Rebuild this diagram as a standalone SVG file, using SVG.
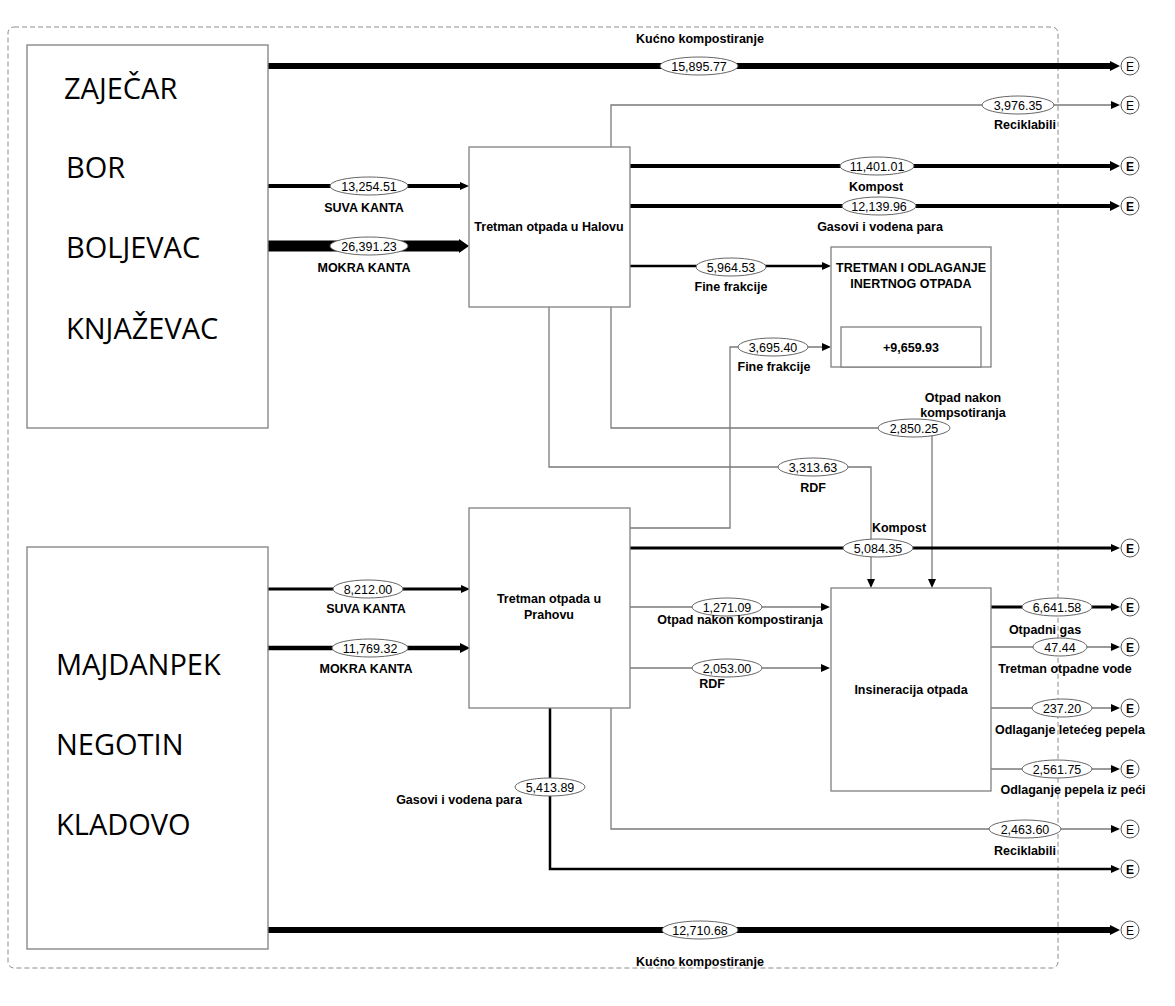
<svg xmlns="http://www.w3.org/2000/svg" width="1175" height="1006" viewBox="0 0 1175 1006">
<style>
.box{fill:#fff;stroke:#808080;stroke-width:1.3}
.city{font-family:"Open Sans","Noto Sans",sans-serif;font-size:29px;fill:#000}
.bt{font-family:"Liberation Sans",Arial,sans-serif;font-size:12.5px;font-weight:bold;fill:#000;text-anchor:middle}
.lbl{font-family:"Liberation Sans",Arial,sans-serif;font-size:12.5px;font-weight:bold;fill:#000;text-anchor:middle}
.num{font-family:"Liberation Sans",Arial,sans-serif;font-size:12.5px;fill:#000;text-anchor:middle}
.ell{fill:#fff;stroke:#666;stroke-width:1}
.thin{fill:none;stroke:#7a7a7a;stroke-width:1.3}
.blk{fill:none;stroke:#000}
.ec{fill:#fff;stroke:#555;stroke-width:1}
.et{font-family:"Liberation Sans",Arial,sans-serif;font-size:12px;fill:#000;text-anchor:middle}
.eb{font-weight:bold}
</style>
<defs>
<marker id="a" markerUnits="userSpaceOnUse" markerWidth="10" markerHeight="10" refX="0" refY="4" orient="auto"><path d="M0,0 L9,4 L0,8 z" fill="#000"/></marker>
<marker id="am" markerUnits="userSpaceOnUse" markerWidth="12" markerHeight="12" refX="0" refY="5" orient="auto"><path d="M0,0 L10,5 L0,10 z" fill="#000"/></marker>
<marker id="al" markerUnits="userSpaceOnUse" markerWidth="14" markerHeight="16" refX="0" refY="7" orient="auto"><path d="M0,0 L10,7 L0,14 z" fill="#000"/></marker>
</defs>
<rect width="1175" height="1006" fill="#fff"/>
<rect x="8" y="27" width="1050" height="941" rx="6" fill="none" stroke="#8c8c8c" stroke-width="1" stroke-dasharray="5 3"/>

<g id="connectors">
<path class="blk" stroke-width="6" d="M268,66 H1110" marker-end="url(#am)"/>
<path class="blk" stroke-width="4" d="M268,186 H460" marker-end="url(#a)"/>
<path class="blk" stroke-width="11" d="M268,246 H459" marker-end="url(#al)"/>
<path class="thin" stroke="#555" d="M611,147 V105 H1111" marker-end="url(#a)"/>
<path class="blk" stroke-width="4" d="M630,166 H1110" marker-end="url(#am)"/>
<path class="blk" stroke-width="4" d="M630,206 H1110" marker-end="url(#am)"/>
<path class="blk" stroke-width="2.5" d="M630,266 H822" marker-end="url(#a)"/>
<path class="thin" d="M630,528 H730 V347 H822" marker-end="url(#a)"/>
<path class="thin" stroke="#555" d="M611,307 V428 H932 V579" marker-end="url(#a)"/>
<path class="thin" d="M549,307 V467 H871 V579" marker-end="url(#a)"/>
<path class="blk" stroke-width="3" d="M630,548 H1111" marker-end="url(#a)"/>
<path class="blk" stroke-width="3" d="M268,589 H461" marker-end="url(#a)"/>
<path class="blk" stroke-width="4.5" d="M268,648 H460" marker-end="url(#am)"/>
<path class="thin" d="M630,607 H821" marker-end="url(#a)"/>
<path class="thin" d="M630,668 H821" marker-end="url(#a)"/>
<path class="blk" stroke-width="3" d="M990,607 H1111" marker-end="url(#a)"/>
<path class="thin" d="M990,647 H1111" marker-end="url(#a)"/>
<path class="thin" d="M990,708 H1111" marker-end="url(#a)"/>
<path class="thin" d="M990,769 H1111" marker-end="url(#a)"/>
<path class="thin" stroke="#555" d="M611,708 V829 H1111" marker-end="url(#a)"/>
<path class="blk" stroke-width="2.5" d="M550,708 V869 H1111" marker-end="url(#a)"/>
<path class="blk" stroke-width="6" d="M268,930 H1110" marker-end="url(#am)"/>

<g>
<ellipse class="ell" cx="699" cy="66" rx="39" ry="9"/><text class="num" x="699" y="70.5">15,895.77</text>
<ellipse class="ell" cx="369" cy="186" rx="39" ry="9"/><text class="num" x="369" y="190.5">13,254.51</text>
<ellipse class="ell" cx="369" cy="246" rx="39" ry="9"/><text class="num" x="369" y="250.5">26,391.23</text>
<ellipse class="ell" cx="1018" cy="105" rx="36" ry="9"/><text class="num" x="1018" y="109.5">3,976.35</text>
<ellipse class="ell" cx="877" cy="166" rx="37" ry="9"/><text class="num" x="877" y="170.5">11,401.01</text>
<ellipse class="ell" cx="879" cy="206" rx="37" ry="9"/><text class="num" x="879" y="210.5">12,139.96</text>
<ellipse class="ell" cx="731" cy="267" rx="35" ry="9"/><text class="num" x="731" y="271.5">5,964.53</text>
<ellipse class="ell" cx="773" cy="347" rx="35" ry="9"/><text class="num" x="773" y="351.5">3,695.40</text>
<ellipse class="ell" cx="914" cy="428" rx="36" ry="9"/><text class="num" x="914" y="432.5">2,850.25</text>
<ellipse class="ell" cx="813" cy="467" rx="35" ry="9"/><text class="num" x="813" y="471.5">3,313.63</text>
<ellipse class="ell" cx="878" cy="548" rx="35" ry="9"/><text class="num" x="878" y="552.5">5,084.35</text>
<ellipse class="ell" cx="368" cy="589" rx="35" ry="9"/><text class="num" x="368" y="593.5">8,212.00</text>
<ellipse class="ell" cx="370" cy="648" rx="38" ry="9"/><text class="num" x="370" y="652.5">11,769.32</text>
<ellipse class="ell" cx="727" cy="607" rx="35" ry="9"/><text class="num" x="727" y="611.5">1,271.09</text>
<ellipse class="ell" cx="727" cy="668" rx="35" ry="9"/><text class="num" x="727" y="672.5">2,053.00</text>
<ellipse class="ell" cx="1057" cy="607" rx="35" ry="9"/><text class="num" x="1057" y="611.5">6,641.58</text>
<ellipse class="ell" cx="1060" cy="647" rx="27" ry="9"/><text class="num" x="1060" y="651.5">47.44</text>
<ellipse class="ell" cx="1062" cy="708" rx="30" ry="9"/><text class="num" x="1062" y="712.5">237.20</text>
<ellipse class="ell" cx="1057" cy="769" rx="35" ry="9"/><text class="num" x="1057" y="773.5">2,561.75</text>
<ellipse class="ell" cx="1025" cy="829" rx="36" ry="9"/><text class="num" x="1025" y="833.5">2,463.60</text>
<ellipse class="ell" cx="550" cy="787" rx="35" ry="9"/><text class="num" x="550" y="791.5">5,413.89</text>
<ellipse class="ell" cx="700" cy="930" rx="38" ry="9"/><text class="num" x="700" y="934.5">12,710.68</text>
</g>

<g>
<text class="lbl" x="700" y="43">Kućno kompostiranje</text>
<text class="lbl" x="364" y="212">SUVA KANTA</text>
<text class="lbl" x="364" y="272">MOKRA KANTA</text>
<text class="lbl" x="1025" y="129">Reciklabili</text>
<text class="lbl" x="876" y="191">Kompost</text>
<text class="lbl" x="880" y="231">Gasovi i vodena para</text>
<text class="lbl" x="731" y="291">Fine frakcije</text>
<text class="lbl" x="774" y="371">Fine frakcije</text>
<text class="lbl" x="963" y="402">Otpad nakon</text>
<text class="lbl" x="963" y="417">kompsotiranja</text>
<text class="lbl" x="813" y="492">RDF</text>
<text class="lbl" x="899" y="532">Kompost</text>
<text class="lbl" x="366" y="613">SUVA KANTA</text>
<text class="lbl" x="366" y="673">MOKRA KANTA</text>
<text class="lbl" x="740" y="624">Otpad nakon kompostiranja</text>
<text class="lbl" x="712" y="688">RDF</text>
<text class="lbl" x="1045" y="634">Otpadni gas</text>
<text class="lbl" x="1065" y="673">Tretman otpadne vode</text>
<text class="lbl" x="1070" y="734">Odlaganje letećeg pepela</text>
<text class="lbl" x="1073" y="794">Odlaganje pepela iz peći</text>
<text class="lbl" x="1025" y="855">Reciklabili</text>
<text class="lbl" x="459" y="804">Gasovi i vodena para</text>
<text class="lbl" x="700" y="966">Kućno kompostiranje</text>
</g>
</g>

<g id="north-municipalities">
<rect class="box" x="27" y="45" width="241" height="383"/>
<text class="city" x="64" y="99">ZAJEČAR</text>
<text class="city" x="66" y="178">BOR</text>
<text class="city" x="66" y="258">BOLJEVAC</text>
<text class="city" x="66" y="339">KNJAŽEVAC</text>
</g>
<g id="south-municipalities">
<rect class="box" x="27" y="547" width="241" height="402"/>
<text class="city" x="56" y="675">MAJDANPEK</text>
<text class="city" x="56" y="755">NEGOTIN</text>
<text class="city" x="56" y="835">KLADOVO</text>
</g>
<g id="halovo">
<rect class="box" x="469" y="147" width="161" height="160"/>
<text class="bt" x="549" y="231">Tretman otpada u Halovu</text>
</g>
<g id="prahovo">
<rect class="box" x="469" y="508" width="161" height="200"/>
<text class="bt" x="549" y="603">Tretman otpada u</text>
<text class="bt" x="549" y="619">Prahovu</text>
</g>
<g id="inertni">
<rect class="box" x="831" y="247" width="160" height="120"/>
<rect class="box" x="841" y="327" width="140" height="40"/>
<text class="bt" x="911" y="272">TRETMAN I ODLAGANJE</text>
<text class="bt" x="911" y="288">INERTNOG OTPADA</text>
<text class="bt" x="911" y="352">+9,659.93</text>
</g>
<g id="insineracija">
<rect class="box" x="831" y="588" width="160" height="203"/>
<text class="bt" x="911" y="694">Insineracija otpada</text>
</g>

<g id="exits">
<circle class="ec" cx="1130" cy="66" r="9"/><text class="et" x="1130" y="70.5">E</text>
<circle class="ec" cx="1130" cy="105" r="9"/><text class="et" x="1130" y="109.5">E</text>
<circle class="ec" cx="1130" cy="166" r="9"/><text class="et eb" x="1130" y="170.5">E</text>
<circle class="ec" cx="1130" cy="206" r="9"/><text class="et eb" x="1130" y="210.5">E</text>
<circle class="ec" cx="1130" cy="548" r="9"/><text class="et eb" x="1130" y="552.5">E</text>
<circle class="ec" cx="1130" cy="607" r="9"/><text class="et eb" x="1130" y="611.5">E</text>
<circle class="ec" cx="1130" cy="647" r="9"/><text class="et eb" x="1130" y="651.5">E</text>
<circle class="ec" cx="1130" cy="708" r="9"/><text class="et eb" x="1130" y="712.5">E</text>
<circle class="ec" cx="1130" cy="769" r="9"/><text class="et eb" x="1130" y="773.5">E</text>
<circle class="ec" cx="1130" cy="829" r="9"/><text class="et" x="1130" y="833.5">E</text>
<circle class="ec" cx="1130" cy="869" r="9"/><text class="et eb" x="1130" y="873.5">E</text>
<circle class="ec" cx="1130" cy="930" r="9"/><text class="et" x="1130" y="934.5">E</text>
</g>
</svg>
